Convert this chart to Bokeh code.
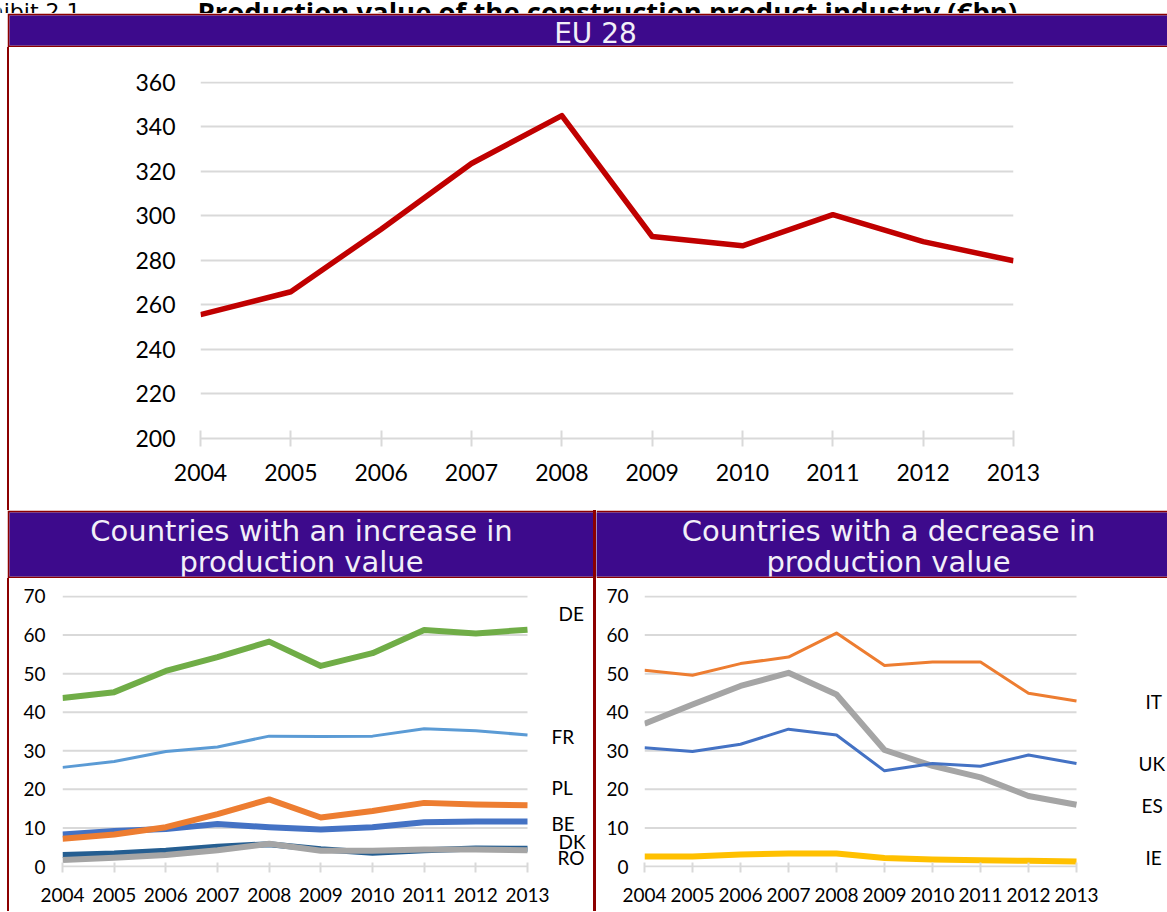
from bokeh.plotting import figure
from bokeh.layouts import column, row
from bokeh.models import Range1d, FixedTicker, Label, Spacer
from bokeh.core.properties import value
from bokeh.embed import file_html
from bokeh.resources import INLINE

# ---------------- data ----------------
years = [2004, 2005, 2006, 2007, 2008, 2009, 2010, 2011, 2012, 2013]
eu28 = [255.6, 265.9, 294.0, 323.5, 345.0, 290.7, 286.5, 300.5, 288.4, 279.8]

inc_names = ["DE", "FR", "BE", "DK", "PL", "RO"]
de = [43.7, 45.2, 50.7, 54.3, 58.3, 52.0, 55.3, 61.3, 60.4, 61.4]
fr = [25.7, 27.2, 29.8, 31.0, 33.8, 33.7, 33.8, 35.7, 35.2, 34.1]
be = [8.3, 9.2, 9.7, 11.0, 10.2, 9.6, 10.2, 11.5, 11.7, 11.7]
dk = [3.0, 3.4, 4.1, 5.1, 5.8, 4.5, 3.6, 4.2, 4.7, 4.6]
pl = [7.2, 8.3, 10.2, 13.6, 17.4, 12.7, 14.4, 16.5, 16.1, 15.9]
ro = [1.7, 2.3, 3.0, 4.2, 5.9, 4.1, 4.1, 4.4, 4.4, 4.2]

dec_names = ["IT", "ES", "UK", "IE"]
it = [50.9, 49.6, 52.6, 54.3, 60.5, 52.1, 53.0, 53.0, 44.9, 42.9]
es = [37.0, 42.0, 46.8, 50.2, 44.6, 30.2, 26.1, 23.1, 18.3, 16.0]
uk = [30.8, 29.8, 31.7, 35.6, 34.1, 24.8, 26.7, 26.0, 28.9, 26.7]
ie = [2.6, 2.6, 3.1, 3.4, 3.4, 2.2, 1.8, 1.6, 1.5, 1.3]

eu_ticks = [200, 220, 240, 260, 280, 300, 320, 340, 360]
small_ticks = [0, 10, 20, 30, 40, 50, 60, 70]

title_prefix = "Exhibit 2.1"
title_text = "Production value of the construction product industry (\u20acbn)"
eu_header = "EU 28"
inc_header = ["Countries with an increase in", "production value"]
dec_header = ["Countries with a decrease in", "production value"]

# ---------------- style ----------------
PURPLE = "#3D0A8C"
RED = "#8C0000"
GRID = "#D9D9D9"
HEAD = value("DejaVu Sans")
HEAD_COLOR = "#F2EFF8"
NUM_NAME = "Lato"
NUM = value(NUM_NAME)

inc_series = [de, fr, be, dk, pl, ro]
inc_colors = ["#70AD47", "#5B9BD5", "#4472C4", "#255E91", "#ED7D31", "#A5A5A5"]
inc_widths = [6, 3, 6, 6, 6, 6]
inc_label_y = [65.5, 33.6, 11.2, 6.6, 20.4, 2.4]
inc_label_dx = [31, 24, 24, 31, 24, 30]

dec_series = [it, es, uk, ie]
dec_colors = ["#ED7D31", "#A5A5A5", "#4472C4", "#FFC000"]
dec_widths = [3, 6, 3, 6]
dec_label_y = [42.9, 15.8, 26.6, 2.4]
dec_label_dx = [69, 65, 62, 69]


def bare(width, height, xr, yr, bg, border, left=0, right=0, top=0, bottom=0):
    p = figure(width=width, height=height, x_range=Range1d(*xr), y_range=Range1d(*yr),
               output_backend="svg", toolbar_location=None,
               x_axis_type=None, y_axis_type=None,
               min_border_left=left, min_border_right=right,
               min_border_top=top, min_border_bottom=bottom,
               background_fill_color=bg, border_fill_color=border,
               outline_line_color=None)
    p.grid.visible = False
    return p


def style_chart(p, yticks, font_size, tick_len, x_standoff, y_standoff, manual_grid=False):
    p.xgrid.visible = False
    if manual_grid:
        # gridlines that stop at the last year, leaving room for series labels
        p.ygrid.visible = False
        p.segment(x0=[years[0]] * len(yticks), x1=[years[-1]] * len(yticks),
                  y0=yticks, y1=yticks, line_color=GRID, line_width=2)
    else:
        p.ygrid.grid_line_color = GRID
        p.ygrid.grid_line_width = 2
    p.yaxis.ticker = FixedTicker(ticks=yticks)
    p.xaxis.ticker = FixedTicker(ticks=years)
    for ax in (p.xaxis, p.yaxis):
        ax.minor_tick_line_color = None
        ax.major_label_text_font = NUM_NAME
        ax.major_label_text_font_size = font_size
        ax.major_label_text_color = "#000000"
    p.yaxis.axis_line_color = None
    p.yaxis.major_tick_line_color = None
    p.yaxis.major_tick_out = 0
    p.yaxis.major_tick_in = 0
    p.yaxis.major_label_standoff = y_standoff
    p.xaxis.axis_line_color = None if manual_grid else GRID
    p.xaxis.axis_line_width = 2
    p.xaxis.major_tick_line_color = GRID
    p.xaxis.major_tick_line_width = 2
    p.xaxis.major_tick_in = tick_len
    p.xaxis.major_tick_out = tick_len
    p.xaxis.major_label_standoff = x_standoff
    p.outline_line_color = None
    p.background_fill_color = "white"
    p.border_fill_color = "white"


def bar(w, h, color=RED):
    return Spacer(width=w, height=h, styles={"background-color": color})


def gap(w, h):
    return Spacer(width=w, height=h)


def x_end_for(fig_w, left, right, data_w):
    # extend the x range past the last year so that labels fit in the frame
    frame_w = fig_w - left - right
    span = years[-1] - years[0]
    return years[-1] + (frame_w - data_w) * span / data_w


# ---------------- title strip ----------------
W = 1167
title = bare(W, 13, (0, W), (0, 13), "white", "white")
title.text(x=[80], y=[2], text=[title_prefix], text_align="right",
           text_baseline="alphabetic", text_font=HEAD, text_font_size="22px",
           text_color="#000000")
title.text(x=[197], y=[2], text=[title_text], text_align="left",
           text_baseline="alphabetic", text_font=value("Open Sans"), text_font_size="27.5px",
           text_font_style="bold", text_color="#000000")

# ---------------- EU 28 header ----------------
euh = bare(1160, 34, (0, 1158), (0, 30), PURPLE, RED, left=2, top=2, bottom=2)
euh.text(x=[586], y=[12], text=[eu_header], text_align="center",
         text_baseline="middle", text_font=HEAD, text_font_size="28px",
         text_color=HEAD_COLOR)

# ---------------- EU 28 chart ----------------
eu = figure(width=1158, height=463, x_range=Range1d(2004, 2013), y_range=Range1d(200, 360.3),
            output_backend="svg", toolbar_location=None,
            min_border_left=191, min_border_right=154, min_border_top=34, min_border_bottom=72)
style_chart(eu, eu_ticks, "23px", 8, 17, 25)
eu.line(years, eu28, line_color="#C00000", line_width=5.5, line_join="round")

# ---------------- bottom headers ----------------
inch = bare(586, 68, (0, 584), (0, 64), PURPLE, RED, left=2, top=2, bottom=2)
inch.text(x=[292, 292], y=[46, 15], text=inc_header, text_align="center",
          text_baseline="middle", text_font=HEAD, text_font_size="29px",
          text_color=HEAD_COLOR)
dech = bare(571, 68, (0, 571), (0, 64), PURPLE, RED, top=2, bottom=2)
dech.text(x=[292, 292], y=[46, 15], text=dec_header, text_align="center",
          text_baseline="middle", text_font=HEAD, text_font_size="29px",
          text_color=HEAD_COLOR)

# ---------------- bottom charts ----------------
inc = figure(width=584, height=333,
             x_range=Range1d(years[0], x_end_for(584, 53, 2, 465)),
             y_range=Range1d(-0.25, 70.25),
             output_backend="svg", toolbar_location=None,
             min_border_left=53, min_border_right=2, min_border_top=17, min_border_bottom=40)
style_chart(inc, small_ticks, "19px", 5, 15, 17, manual_grid=True)
for s, c, w in zip(inc_series, inc_colors, inc_widths):
    inc.line(years, s, line_color=c, line_width=w, line_join="round")
for n, ly, dx in zip(inc_names, inc_label_y, inc_label_dx):
    inc.add_layout(Label(x=years[-1], y=ly, x_offset=dx, text=n, text_baseline="middle",
                         text_font=NUM_NAME, text_font_size="19px", text_color="#000000"))

dec = figure(width=571, height=333,
             x_range=Range1d(years[0], x_end_for(571, 48, 2, 432)),
             y_range=Range1d(-0.25, 70.25),
             output_backend="svg", toolbar_location=None,
             min_border_left=48, min_border_right=2, min_border_top=17, min_border_bottom=44)
style_chart(dec, small_ticks, "19px", 5, 15, 16, manual_grid=True)
for s, c, w in zip(dec_series, dec_colors, dec_widths):
    dec.line(years, s, line_color=c, line_width=w, line_join="round")
for n, ly, dx in zip(dec_names, dec_label_y, dec_label_dx):
    dec.add_layout(Label(x=years[-1], y=ly, x_offset=dx, text=n, text_baseline="middle",
                         text_font=NUM_NAME, text_font_size="19px", text_color="#000000"))


layout = column(
    title,
    row(gap(7, 34), euh),
    row(gap(7, 463), bar(2, 463), eu),
    row(gap(7, 68), inch, bar(3, 68), dech),
    row(gap(7, 333), bar(2, 333), inc, bar(3, 333), dec),
)

open("out.html", "w").write(file_html(layout, INLINE, title="Production value of the construction product industry"))
